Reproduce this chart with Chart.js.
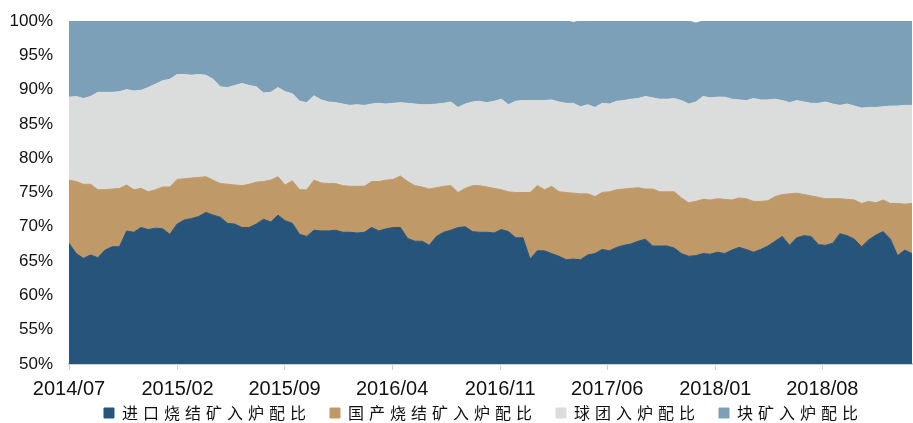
<!DOCTYPE html>
<html>
<head>
<meta charset="utf-8">
<script src="https://cdn.jsdelivr.net/npm/chart.js@4.4.1/dist/chart.umd.min.js"></script>
<style>
  html, body { margin: 0; padding: 0; background: #ffffff; }
  #wrap { width: 913px; height: 423px; position: relative; }
</style>
</head>
<body>
<div id="wrap"><canvas id="c" width="913" height="423"></canvas></div>
<script>
// ---------------- data ----------------
const seriesNames = ['进口烧结矿入炉配比', '国产烧结矿入炉配比', '球团入炉配比', '块矿入炉配比'];
const tickLabels = ['2014/07', '2015/02', '2015/09', '2016/04', '2016/11', '2017/06', '2018/01', '2018/08'];

const importedSinter = [
  67.6,66.1,65.4,65.9,65.5,66.6,67.1,67.1,69.4,69.2,
  69.9,69.6,69.8,69.7,68.9,70.4,71.0,71.2,71.5,72.1,
  71.7,71.4,70.5,70.4,69.9,69.9,70.4,71.1,70.7,71.7,
  70.9,70.5,68.9,68.6,69.5,69.4,69.4,69.5,69.2,69.2,
  69.1,69.2,69.9,69.4,69.7,69.9,69.9,68.3,67.9,67.9,
  67.3,68.6,69.2,69.5,69.9,70.0,69.3,69.2,69.2,69.1,
  69.6,69.3,68.4,68.4,65.3,66.5,66.5,66.1,65.7,65.2,
  65.3,65.2,65.9,66.1,66.7,66.5,67.0,67.3,67.5,67.9,
  68.2,67.2,67.2,67.2,66.9,66.1,65.7,65.8,66.1,66.0,
  66.3,66.1,66.6,67.0,66.7,66.3,66.7,67.2,67.9,68.6,
  67.3,68.4,68.7,68.6,67.4,67.3,67.6,69.0,68.7,68.2,
  67.1,68.1,68.8,69.3,68.2,65.8,66.6,66.1
];
const domesticSinter = [
  9.2,10.5,10.8,10.3,9.9,8.8,8.4,8.5,6.7,6.2,
  5.7,5.5,5.6,6.1,6.9,6.5,6.0,5.9,5.7,5.2,
  5.1,4.9,5.7,5.7,6.1,6.3,6.1,5.5,6.1,5.6,
  5.2,6.2,6.5,6.8,7.3,7.0,6.9,6.8,6.8,6.7,
  6.8,6.7,6.7,7.2,7.1,7.0,7.5,8.3,8.1,7.9,
  8.2,7.1,6.7,6.5,5.1,5.6,6.7,6.8,6.6,6.5,
  5.8,5.8,6.6,6.6,9.7,9.5,8.9,9.8,9.4,9.8,
  9.6,9.6,8.9,8.3,8.3,8.6,8.4,8.2,8.1,7.8,
  7.3,8.3,7.9,7.9,8.2,8.1,7.8,7.9,7.9,7.9,
  7.8,7.9,7.3,7.2,7.4,7.4,7.0,6.6,6.5,6.1,
  7.5,6.5,6.0,5.9,6.9,6.8,6.5,5.1,5.3,5.7,
  6.3,5.6,4.7,4.6,5.2,7.6,6.7,7.3
];
const pellets = [
  12.1,12.4,12.5,12.8,14.2,14.2,14.1,14.1,13.9,14.4,
  14.3,15.2,15.4,15.5,15.7,15.3,15.2,15.0,15.0,14.8,
  14.7,14.1,14.1,14.5,14.9,14.4,13.9,12.9,12.8,13.0,
  13.6,12.7,12.9,12.7,12.3,12.1,11.9,11.8,11.9,11.8,
  11.9,11.8,11.3,11.4,11.1,11.1,10.7,11.4,11.9,12.0,
  12.3,12.2,12.1,12.2,12.4,12.3,12.2,12.3,12.3,12.7,
  13.2,12.7,13.3,13.4,13.4,12.4,13.0,12.6,13.1,13.0,
  13.1,12.7,13.0,13.0,13.0,12.8,12.9,12.9,13.0,13.0,
  13.5,13.3,13.5,13.5,13.6,14.2,14.4,14.5,15.0,14.9,
  14.8,14.9,14.7,14.3,14.3,15.0,14.8,14.7,14.2,13.7,
  13.3,13.5,13.5,13.5,13.7,14.1,13.8,13.6,13.9,13.7,
  13.9,13.7,13.9,13.6,14.2,14.2,14.4,14.3
];
const lumpOre = [
  11.1,11.0,11.3,11.0,10.4,10.4,10.4,10.3,10.0,10.2,
  10.1,9.7,9.2,8.7,8.5,7.8,7.8,7.9,7.8,7.9,
  8.5,9.6,9.7,9.4,9.1,9.4,9.6,10.5,10.4,9.7,
  10.3,10.6,11.7,11.9,10.9,11.5,11.8,11.9,12.1,12.3,
  12.2,12.3,12.1,12.0,12.1,12.0,11.9,12.0,12.1,12.2,
  12.2,12.1,12.0,11.8,12.6,12.1,11.8,11.7,11.9,11.7,
  11.4,12.2,11.7,11.6,11.6,11.6,11.6,11.5,11.8,12.0,
  11.8,12.5,12.2,12.6,12.0,12.1,11.7,11.6,11.4,11.3,
  11.0,11.2,11.4,11.4,11.3,11.6,12.1,11.5,11.0,11.2,
  11.1,11.1,11.4,11.5,11.6,11.3,11.5,11.5,11.4,11.6,
  11.9,11.6,11.8,12.0,12.0,11.8,12.1,12.3,12.1,12.4,
  12.7,12.6,12.6,12.5,12.4,12.4,12.3,12.3
];

// observations are roughly every two weeks starting at the 2014/07 tick
const OBS_INTERVAL_DAYS = 14.27;
const obsDays = importedSinter.map((_, i) => i * OBS_INTERVAL_DAYS);
const START_UTC = Date.UTC(2014, 6, 1);
const tickDays = tickLabels.map(s => {
  const [y, m] = s.split('/').map(Number);
  return (Date.UTC(y, m - 1, 1) - START_UTC) / 86400000;
});

// ---------------- style ----------------
const colors = ['#27547a', '#bf9a68', '#dbdcdc', '#7ba0b8'];
const LEGEND_LETTER_SPACING = '5px';
const LEGEND_HEIGHT = 23;
const LEGEND_SHIFT_Y = -14;
const LEGEND_SHIFT_X = -7;

// legend text in the reference is widely spaced: wrap the legend's measure/draw with canvas letterSpacing
(function patchLegend() {
  let LegendCls = null;
  try { LegendCls = Chart.Legend && Chart.Legend._element; } catch (e) {}
  if (!LegendCls) { try { LegendCls = Chart.registry.getPlugin('legend')._element; } catch (e) {} }
  if (!LegendCls) return;
  const origFit = LegendCls.prototype.fit;
  const origDraw = LegendCls.prototype.draw;
  LegendCls.prototype.fit = function (...a) {
    const c = this.ctx; const prev = c.letterSpacing;
    c.letterSpacing = LEGEND_LETTER_SPACING;
    try { origFit.apply(this, a); } finally { c.letterSpacing = prev || '0px'; }
    if (this.options && this.options.display) this.height = LEGEND_HEIGHT;
  };
  LegendCls.prototype.draw = function (...a) {
    const c = this.ctx; const prev = c.letterSpacing;
    const box = { top: this.top, left: this.left, right: this.right };
    c.letterSpacing = LEGEND_LETTER_SPACING;
    this.top += LEGEND_SHIFT_Y; this.left += LEGEND_SHIFT_X; this.right += LEGEND_SHIFT_X;
    try { return origDraw.apply(this, a); }
    finally {
      c.letterSpacing = prev || '0px';
      this.top = box.top; this.left = box.left; this.right = box.right;
    }
  };
})();

const seriesData = [importedSinter, domesticSinter, pellets, lumpOre];
const datasets = seriesData.map((arr, k) => ({
  label: seriesNames[k],
  data: arr,
  backgroundColor: colors[k],
  borderColor: colors[k],
  borderWidth: 1,
  pointRadius: 0,
  pointHoverRadius: 0,
  tension: 0,
  fill: k === 0 ? 'start' : '-1'
}));

new Chart(document.getElementById('c'), {
  type: 'line',
  data: { labels: obsDays, datasets },
  options: {
    responsive: false,
    animation: false,
    events: [],
    layout: { padding: { left: 0, right: 1, top: 21, bottom: 0 } },
    plugins: {
      tooltip: { enabled: false },
      legend: {
        position: 'bottom',
        fullSize: false,
        labels: {
          boxWidth: 10,
          boxHeight: 10,
          padding: 19,
          color: '#111111',
          font: { family: "'Noto Sans CJK SC', 'Noto Sans', sans-serif", size: 16 }
        }
      }
    },
    scales: {
      x: {
        type: 'linear',
        min: 0,
        max: obsDays[obsDays.length - 1],
        afterBuildTicks: (s) => { s.ticks = tickDays.map(v => ({ value: v })); },
        afterFit: (s) => { s.height = 36; },
        ticks: {
          autoSkip: false,
          maxRotation: 0,
          padding: 7,
          color: '#111111',
          font: { family: "'Liberation Sans', Arial, sans-serif", size: 20 },
          callback: (v, i) => tickLabels[i]
        },
        grid: { display: true, drawOnChartArea: false, drawTicks: true, tickLength: 6, color: '#d0d0d0', lineWidth: 1 },
        border: { display: true, color: '#d0d0d0', width: 2 }
      },
      y: {
        stacked: true,
        min: 50,
        max: 100,
        afterFit: (s) => { s.width = 69; },
        ticks: {
          stepSize: 5,
          padding: 6,
          color: '#111111',
          font: { family: "'Liberation Sans', Arial, sans-serif", size: 17 },
          callback: (v) => v + '%'
        },
        grid: { display: false, drawTicks: true, tickLength: 10 },
        border: { display: false }
      }
    }
  }
});
</script>
</body>
</html>
